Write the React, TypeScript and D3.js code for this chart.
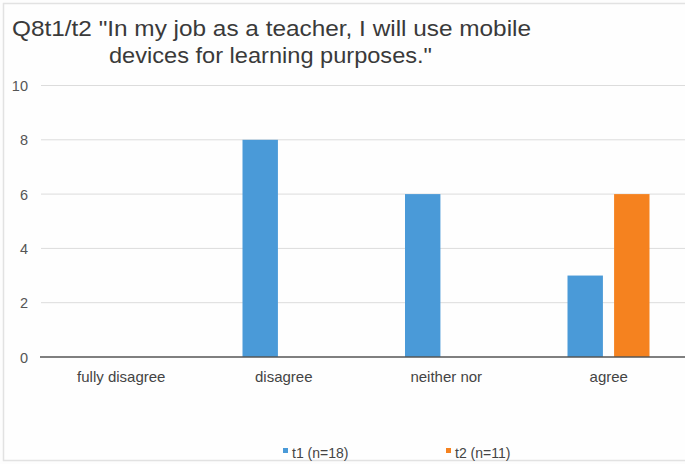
import React from "react";
import * as d3 from "d3";

const categories = ["fully disagree", "disagree", "neither nor", "agree"];
const seriesNames = ["t1 (n=18)", "t2 (n=11)"];
const t1Values = [0, 8, 6, 3];
const t2Values = [0, 0, 0, 6];
const yTicks = [0, 2, 4, 6, 8, 10];
const titleLines = ["Q8t1/t2 \"In my job as a teacher, I will use mobile", "devices for learning purposes.\""];
const colors = ["#4a9ad8", "#f5821f"];

export default function App() {
  const W = 685, H = 464;
  const x = d3.scaleBand<string>().domain(categories).range([40, 690]).paddingInner(0).paddingOuter(0);
  const y = d3.scaleLinear().domain([0, 10]).range([357, 85.5]);
  const inner = d3.scaleBand<string>().domain(seriesNames).range([40, 122]).paddingInner(0.24);
  const series = [t1Values, t2Values];
  const font = "'Liberation Sans', Arial, Helvetica, sans-serif";
  return (
    <svg width={W} height={H} style={{ position: "absolute", left: 0, top: 0, fontFamily: font }}>
      <rect x={0} y={0} width={W} height={H} fill="#fdfdfd" />
      <rect x={3.5} y={3.5} width={W + 10} height={H - 7} fill="#fefefe" stroke="#e2e2e2" strokeWidth={1.5} />
      <text x={12} y={36} fontSize={22} fill="#3a3a3a" textLength={519} lengthAdjust="spacingAndGlyphs">{titleLines[0]}</text>
      <text x={109} y={63} fontSize={22} fill="#3a3a3a" textLength={323} lengthAdjust="spacingAndGlyphs">{titleLines[1]}</text>
      {yTicks.map((t) => (
        <g key={t}>
          {t > 0 && <line x1={41} x2={W} y1={y(t)} y2={y(t)} stroke="#dcdcdc" strokeWidth={1} />}
          <text x={28} y={y(t) + 5.5} fontSize={14.5} textAnchor="end" fill="#555">{t}</text>
        </g>
      ))}
      {categories.map((c, i) =>
        series.map((vals, s) =>
          vals[i] > 0 ? (
            <rect
              key={c + s}
              x={(x(c) as number) + (inner(seriesNames[s]) as number)}
              y={y(vals[i])}
              width={inner.bandwidth()}
              height={y(0) - y(vals[i])}
              fill={colors[s]}
            />
          ) : null
        )
      )}
      <line x1={40} x2={W} y1={y(0)} y2={y(0)} stroke="#555" strokeWidth={1.5} />
      {categories.map((c) => (
        <text key={c} x={(x(c) as number) + x.bandwidth() / 2} y={382} fontSize={15} textAnchor="middle" fill="#444">{c}</text>
      ))}
      {seriesNames.map((n, s) => (
        <g key={n} transform={`translate(${s === 0 ? 283 : 446},0)`}>
          <rect x={0} y={448} width={5} height={5} fill={colors[s]} />
          <text x={9} y={458} fontSize={14} fill="#444">{n}</text>
        </g>
      ))}
    </svg>
  );
}
